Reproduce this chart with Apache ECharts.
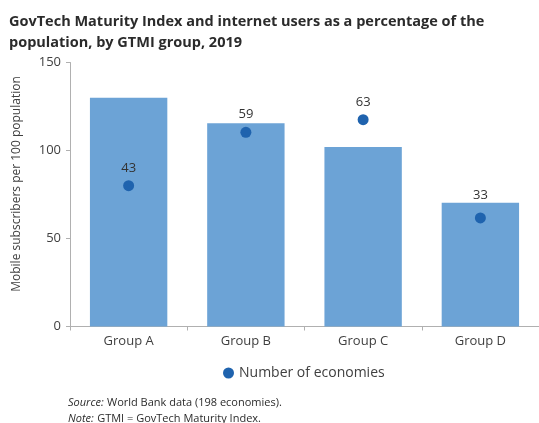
<!DOCTYPE html>
<html>
<head>
<meta charset="utf-8">
<script src="https://cdn.jsdelivr.net/npm/echarts@6/dist/echarts.min.js"></script>
<style>
html,body{margin:0;padding:0;background:#fff;}
#c{width:539px;height:423px;}
</style>
</head>
<body>
<div id="c"></div>
<script>
var categories = ['Group A', 'Group B', 'Group C', 'Group D'];
var mobileSubscribers = [130, 115.5, 102, 70.3];
var internetUsers = [80, 110.3, 117.5, 61.7];
var economies = [43, 59, 63, 33];
var yTicks = [0, 50, 100, 150];

// label gap above each dot (style only)
var labelGaps = [5, 6, 5, 11];

var FONT = '"Open Sans", "Noto Sans", sans-serif';
var scatterData = internetUsers.map(function (v, i) {
  return {value: v, label: {distance: labelGaps[i]}};
});

var chart = echarts.init(document.getElementById('c'), null, {renderer: 'canvas'});
chart.setOption({
  animation: false,
  backgroundColor: '#ffffff',
  textStyle: {fontFamily: FONT},
  title: {
    text: 'GovTech Maturity Index and internet users as a percentage of the\npopulation, by GTMI group, 2019',
    left: 4, top: 6,
    textStyle: {fontFamily: FONT, fontSize: 14.5, fontWeight: 'bold', color: '#2b2b2b', lineHeight: 21}
  },
  grid: {left: 70, top: 62.5, width: 472, height: 264},
  xAxis: {
    type: 'category',
    data: categories,
    axisLine: {lineStyle: {color: '#b0b0b0', width: 1}},
    axisTick: {show: true, length: 4, lineStyle: {color: '#b0b0b0'}},
    axisLabel: {color: '#404040', fontSize: 13, margin: 8, fontFamily: FONT}
  },
  yAxis: {
    type: 'value',
    min: yTicks[0], max: yTicks[yTicks.length - 1], interval: 50,
    axisLine: {show: true, lineStyle: {color: '#b0b0b0', width: 1}},
    axisTick: {show: true, length: 4, lineStyle: {color: '#b0b0b0'}},
    axisLabel: {color: '#404040', fontSize: 13, margin: 9, fontFamily: FONT},
    splitLine: {show: false}
  },
  legend: {
    data: [{name: 'Number of economies', icon: 'circle'}],
    left: 218, top: 361,
    itemWidth: 11, itemHeight: 11, itemGap: 5,
    textStyle: {color: '#404040', fontSize: 14, fontFamily: FONT}
  },
  series: [
    {
      name: 'Mobile subscribers',
      type: 'bar',
      data: mobileSubscribers,
      barWidth: '66%',
      itemStyle: {color: '#6ca3d6'}
    },
    {
      name: 'Number of economies',
      type: 'scatter',
      data: scatterData,
      symbol: 'circle',
      symbolSize: 11,
      itemStyle: {color: '#1f63ae', opacity: 1},
      label: {
        show: true, position: 'top', distance: 5,
        color: '#333333', fontSize: 13, fontFamily: FONT,
        formatter: function (p) { return String(economies[p.dataIndex]); }
      },
      z: 3
    }
  ],
  graphic: [
    {
      type: 'text', x: 17, y: 184, rotation: Math.PI / 2,
      style: {
        text: 'Mobile subscribers per 100 population',
        fontSize: 12, fontFamily: FONT, fill: '#404040',
        align: 'center', verticalAlign: 'middle'
      }
    },
    {
      type: 'text', left: 68, top: 395,
      style: {
        rich: {
          i: {fontStyle: 'italic', fontSize: 11, fontFamily: FONT, fill: '#2b2b2b'},
          n: {fontSize: 11, fontFamily: FONT, fill: '#2b2b2b'}
        },
        text: '{i|Source:} {n|World Bank data (198 economies).}\n{i|Note:} {n|GTMI = GovTech Maturity Index.}',
        lineHeight: 16
      }
    }
  ]
});
</script>
</body>
</html>
